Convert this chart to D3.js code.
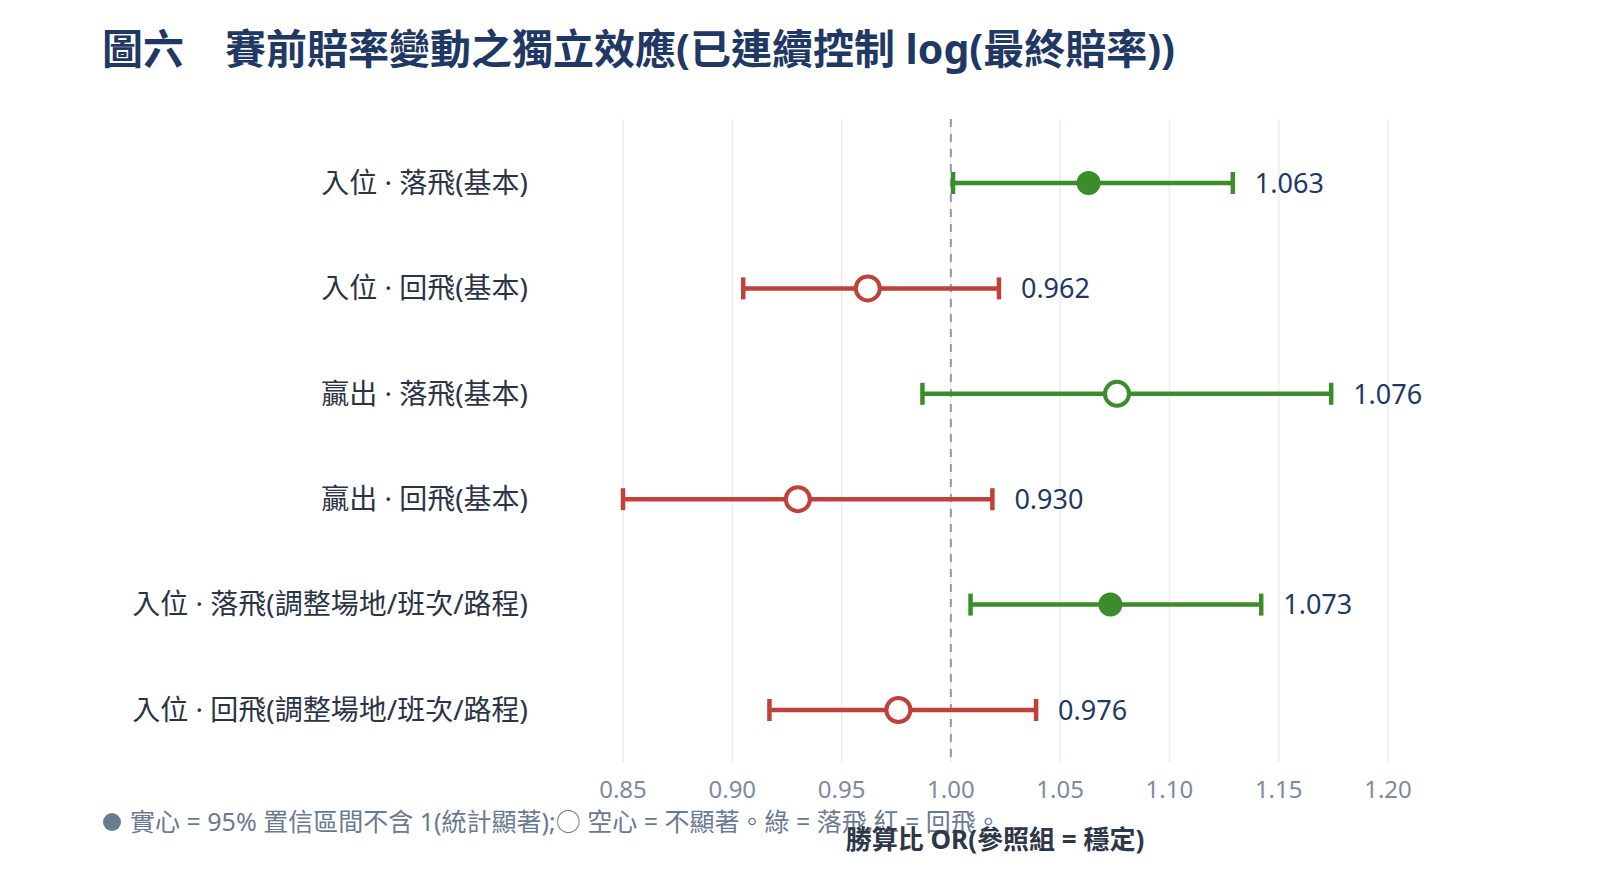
<!DOCTYPE html>
<meta charset="utf-8">
<style>
body { margin: 0; background: #fff; font-family: "Noto Sans", "Noto Sans CJK TC", sans-serif; }
.grid line { stroke: #e8edf4; stroke-width: 1.5; }
.tick-label { fill: #7d8aa0; font-size: 24px; }
.cat-label { fill: #2b3445; font-size: 28px; }
.val-label { fill: #1f3864; font-size: 27px; }
</style>
<div id="chart"></div>
<script src="https://cdn.jsdelivr.net/npm/d3@7"></script>
<script>
// data
var labels = ["入位 · 落飛(基本)", "入位 · 回飛(基本)", "贏出 · 落飛(基本)", "贏出 · 回飛(基本)",
              "入位 · 落飛(調整場地/班次/路程)", "入位 · 回飛(調整場地/班次/路程)"];
var orValues = [1.063, 0.962, 1.076, 0.930, 1.073, 0.976];
var ciLow    = [1.001, 0.905, 0.987, 0.850, 1.009, 0.917];
var ciHigh   = [1.129, 1.022, 1.174, 1.019, 1.142, 1.039];
var significant = [true, false, false, false, true, false];
var xTicks = [0.85, 0.90, 0.95, 1.00, 1.05, 1.10, 1.15, 1.20];

var W = 1600, H = 874;
var green = "#3b8c2a", red = "#c0403a";

var svg = d3.select("#chart").append("svg").attr("width", W).attr("height", H);

var x = d3.scaleLinear().domain([0.85, 1.20]).range([623, 1388]);
var y = d3.scalePoint().domain(d3.range(labels.length)).range([183, 710]);
var gridTop = 119, gridBottom = 762;

// title
svg.append("text").attr("x", 102).attr("y", 64)
  .attr("fill", "#1f3864").attr("font-size", 41).attr("font-weight", "bold")
  .text("圖六　賽前賠率變動之獨立效應(已連續控制 log(最終賠率))");

// grid
svg.append("g").attr("class", "grid").selectAll("line").data(xTicks).join("line")
  .attr("x1", d => x(d)).attr("x2", d => x(d)).attr("y1", gridTop).attr("y2", gridBottom);

// reference line at OR = 1
svg.append("line").attr("x1", x(1)).attr("x2", x(1)).attr("y1", gridTop).attr("y2", gridBottom)
  .attr("stroke", "#8e9ab2").attr("stroke-width", 2).attr("stroke-dasharray", "8,7");

// x tick labels
svg.append("g").selectAll("text").data(xTicks).join("text")
  .attr("class", "tick-label").attr("x", d => x(d)).attr("y", 798)
  .attr("text-anchor", "middle").text(d => d3.format(".2f")(d));

// category labels
svg.append("g").selectAll("text").data(labels).join("text")
  .attr("class", "cat-label").attr("x", 528).attr("y", (d, i) => y(i))
  .attr("dy", "0.35em").attr("text-anchor", "end").text(d => d);

var rows = svg.append("g").selectAll("g").data(orValues).join("g");
var col = (d, i) => d >= 1 ? green : red;

rows.append("line").attr("x1", (d, i) => x(ciLow[i])).attr("x2", (d, i) => x(ciHigh[i]))
  .attr("y1", (d, i) => y(i)).attr("y2", (d, i) => y(i))
  .attr("stroke", col).attr("stroke-width", 4.5);
rows.append("line").attr("x1", (d, i) => x(ciLow[i])).attr("x2", (d, i) => x(ciLow[i]))
  .attr("y1", (d, i) => y(i) - 11).attr("y2", (d, i) => y(i) + 11)
  .attr("stroke", col).attr("stroke-width", 4.5);
rows.append("line").attr("x1", (d, i) => x(ciHigh[i])).attr("x2", (d, i) => x(ciHigh[i]))
  .attr("y1", (d, i) => y(i) - 11).attr("y2", (d, i) => y(i) + 11)
  .attr("stroke", col).attr("stroke-width", 4.5);
rows.append("circle").attr("cx", d => x(d)).attr("cy", (d, i) => y(i))
  .attr("r", 12)
  .attr("fill", (d, i) => significant[i] ? col(d) : "#fff")
  .attr("stroke", col).attr("stroke-width", (d, i) => significant[i] ? 0 : 4);
rows.append("text").attr("class", "val-label")
  .attr("x", (d, i) => x(ciHigh[i]) + 22).attr("y", (d, i) => y(i)).attr("dy", "0.36em")
  .text(d => d3.format(".3f")(d));

// footer note
svg.append("circle").attr("cx", 112).attr("cy", 822).attr("r", 9).attr("fill", "#6b7a93");
svg.append("text").attr("x", 130).attr("y", 831).attr("fill", "#6b7a93").attr("font-size", 25)
  .text("實心 = 95% 置信區間不含 1(統計顯著);○ 空心 = 不顯著。綠 = 落飛,紅 = 回飛。");

// axis title
svg.append("text").attr("x", 995).attr("y", 849).attr("text-anchor", "middle")
  .attr("fill", "#2d3748").attr("font-size", 26).attr("font-weight", "bold")
  .text("勝算比 OR(參照組 = 穩定)");
</script>
